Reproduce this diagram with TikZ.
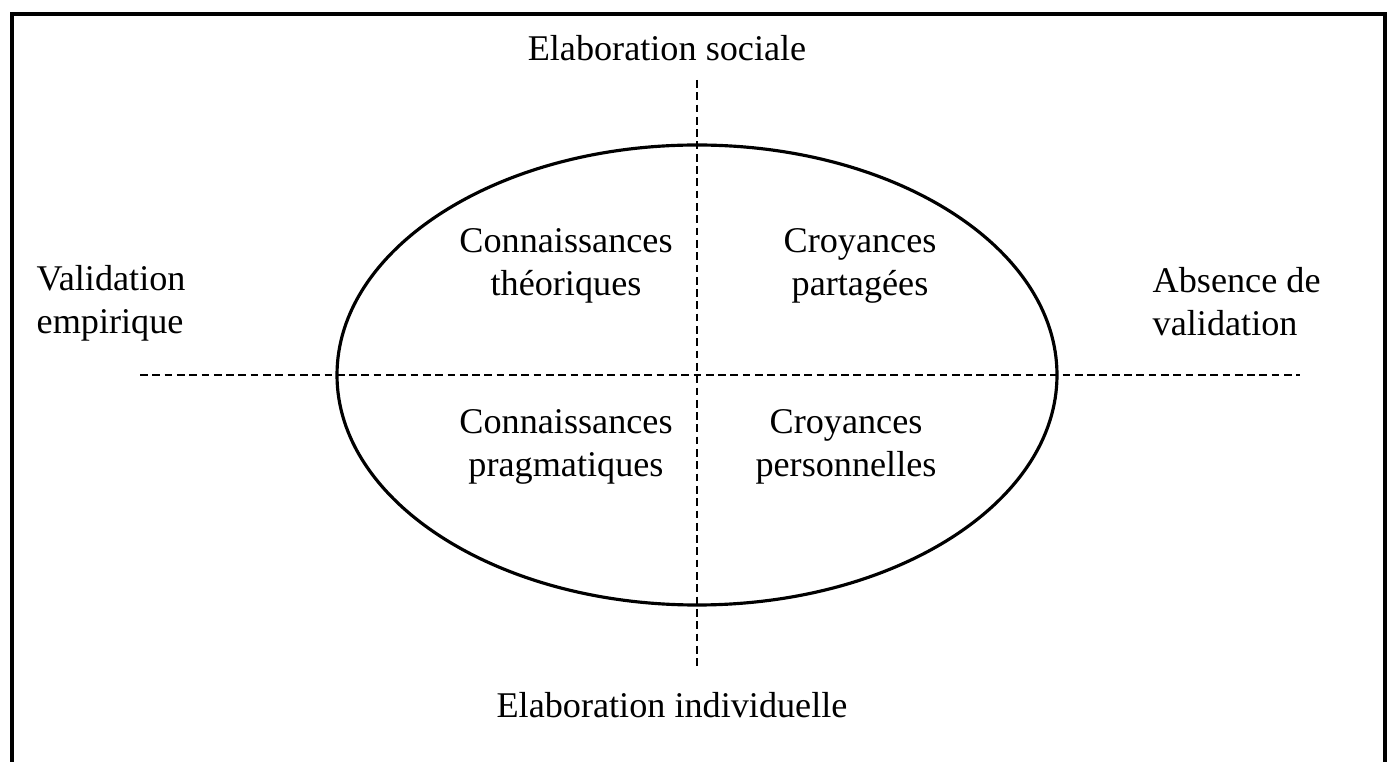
\documentclass[tikz,border=0pt]{standalone}
\usepackage{fontspec}
\setmainfont{Liberation Serif}
\usepackage{tikz}
\usetikzlibrary{calc}

\begin{document}
\begin{tikzpicture}[
		every node/.style = {font=\fontsize{10.3}{12.2}\selectfont, inner sep=0pt},
		axis/.style = {dash pattern=on 2.2pt off 1.3pt, line width=0.8pt},
		quadrant/.style = {align=center}
	]
						\useasboundingbox (0,0) rectangle (13.91,7.62);
						\draw [line width=1pt] (0.12,-0.1) -- (0.12,7.48) -- (13.85,7.48) -- (13.85,-0.1);

						\begin{scope}
							\coordinate (west) at (1.40,3.87);
							\coordinate (east) at (13.00,3.87);
							\coordinate (north) at (6.97,6.82);
							\coordinate (south) at (6.97,0.92);
							\draw [axis] (west) -- (east);
							\draw [axis] (north) -- (south);
						\end{scope}
						\draw [line width=0.9pt] (6.97,3.87) ellipse [x radius=3.60, y radius=2.30];

						\begin{scope}
							\node (sociale) at (6.67,7.14) {Elaboration sociale};
							\node (individuelle) at (6.72,0.57) {Elaboration individuelle};
							\node (empirique) [anchor=west, align=left] at (0.36,4.59) {Validation\\empirique};
							\node (absence) [anchor=west, align=left] at (11.52,4.60) {Absence de\\validation};
						\end{scope}
						\begin{scope}
							\node (theoriques) [quadrant] at (5.66,4.96) {Connaissances\\théoriques};
							\node (partagees) [quadrant] at (8.60,4.96) {Croyances\\partagées};
							\node (pragmatiques) [quadrant] at (5.66,3.15) {Connaissances\\pragmatiques};
							\node (personnelles) [quadrant] at (8.46,3.15) {Croyances\\personnelles};
						\end{scope}
					\end{tikzpicture}
\end{document}
